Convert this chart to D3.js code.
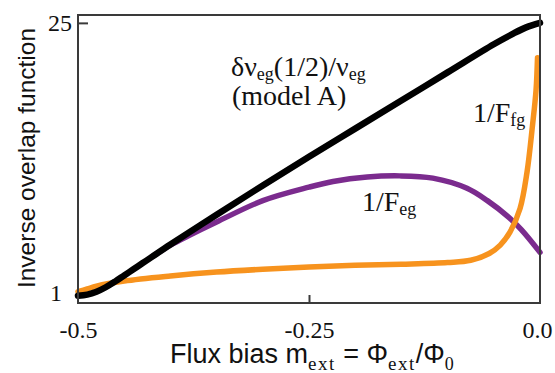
<!DOCTYPE html>
<html>
<head>
<meta charset="utf-8">
<script src="https://cdn.jsdelivr.net/npm/d3@7"></script>
<style>
  html, body { margin: 0; padding: 0; background: #fff; }
  svg { display: block; }
</style>
</head>
<body>
<svg id="chart" width="555" height="373"></svg>
<script>
// Flux bias (x) and inverse overlap values (y) for each curve
const modelAFlux   = [-0.5, -0.49, -0.48, -0.47, -0.46, -0.45, -0.44, -0.43, -0.42, -0.4, -0.35, -0.3, -0.25, -0.2, -0.15, -0.1, -0.05, -0.03, -0.015, 0];
const modelAValues = [0.75, 0.85, 1.1, 1.5, 2.0, 2.55, 3.1, 3.65, 4.2, 5.3, 7.95, 10.55, 13.1, 15.6, 18.1, 20.6, 23.1, 24.0, 24.6, 25.0];

const fegFlux   = [-0.42, -0.4, -0.38, -0.35, -0.3, -0.25, -0.224, -0.187, -0.152, -0.116, -0.079, -0.057, -0.035, -0.02, 0];
const fegValues = [4.2, 5.25, 6.1, 7.3, 9.2, 10.4, 10.9, 11.3, 11.4, 11.2, 10.3, 9.2, 7.8, 6.6, 4.6];

const ffgFlux   = [-0.5, -0.49, -0.48, -0.45, -0.4, -0.35, -0.3, -0.25, -0.2, -0.15, -0.1, -0.075, -0.055, -0.043, -0.0325, -0.0216, -0.0141, -0.0081, -0.0043, -0.0027];
const ffgValues = [1.1, 1.35, 1.6, 2.05, 2.5, 2.85, 3.1, 3.3, 3.45, 3.55, 3.7, 3.9, 4.5, 5.25, 6.4, 8.5, 11.7, 15.9, 19.0, 21.9];

const xTicks = [-0.5, -0.25, 0.0];
const xTickLabels = ["-0.5", "-0.25", "0.0"];
const yTicks = [1, 25];
const yTickLabels = ["1", "25"];

const SERIF = "Liberation Serif";
const SANS = "Liberation Sans";

const svg = d3.select("#chart");
const W = 555, H = 373;
const margin = { left: 78, top: 15, right: 15, bottom: 70 };

const x = d3.scaleLinear().domain([-0.5, 0]).range([margin.left, W - margin.right]);
const y = d3.scaleLinear().domain([0.1, 25.7]).range([H - margin.bottom, margin.top]);

const line = d3.line()
  .x(d => x(d[0]))
  .y(d => y(d[1]))
  .curve(d3.curveCatmullRom.alpha(0.5));

const zip = (a, b) => a.map((v, i) => [v, b[i]]);

// Curves: purple under orange, black on top
svg.append("path")
  .attr("d", line(zip(fegFlux, fegValues)))
  .attr("fill", "none").attr("stroke", "#7b2b8e").attr("stroke-width", 5.5)
  .attr("stroke-linecap", "round");

svg.append("path")
  .attr("d", line(zip(ffgFlux, ffgValues)))
  .attr("fill", "none").attr("stroke", "#f7931e").attr("stroke-width", 5.5)
  .attr("stroke-linecap", "round");

svg.append("path")
  .attr("d", line(zip(modelAFlux, modelAValues)))
  .attr("fill", "none").attr("stroke", "#000").attr("stroke-width", 6.5)
  .attr("stroke-linecap", "round");

// Frame
svg.append("rect")
  .attr("x", margin.left).attr("y", margin.top)
  .attr("width", W - margin.left - margin.right)
  .attr("height", H - margin.top - margin.bottom)
  .attr("fill", "none").attr("stroke", "#3a3a3a").attr("stroke-width", 2);

// Bottom axis: inward tick at -0.25 only, labels at all three
const xAxis = d3.axisBottom(x)
  .tickValues(xTicks)
  .tickFormat((d, i) => xTickLabels[i])
  .tickSizeInner(-8).tickSizeOuter(0).tickPadding(18);
const gx = svg.append("g").attr("transform", `translate(0,${H - margin.bottom})`).call(xAxis)
  .attr("font-family", SERIF).attr("font-size", 24);
gx.select(".domain").remove();
gx.selectAll(".tick line")
  .attr("stroke", "#3a3a3a").attr("stroke-width", 2)
  .attr("opacity", d => (d === -0.25 ? 1 : 0));
gx.selectAll(".tick text")
  .attr("fill", "#111")
  .attr("dx", d => (d === 0 ? -3 : 0));

// Left axis: inward tick at 25 only
const yAxis = d3.axisLeft(y)
  .tickValues(yTicks)
  .tickFormat((d, i) => yTickLabels[i])
  .tickSizeInner(-10).tickSizeOuter(0).tickPadding(6);
const gy = svg.append("g").attr("transform", `translate(${margin.left},0)`).call(yAxis)
  .attr("font-family", SERIF).attr("font-size", 24);
gy.select(".domain").remove();
gy.selectAll(".tick line")
  .attr("stroke", "#3a3a3a").attr("stroke-width", 2)
  .attr("opacity", d => (d === 25 ? 1 : 0));
gy.selectAll(".tick text")
  .attr("fill", "#111")
  .attr("x", d => (d === 1 ? -16 : -6));

// Axis titles
const xt = svg.append("text")
  .attr("x", 170).attr("y", 363)
  .attr("font-family", SANS).attr("font-size", 27).attr("fill", "#111");
xt.append("tspan").text("Flux bias m");
xt.append("tspan").attr("font-family", SERIF).attr("font-size", 19).attr("letter-spacing", 1.5).attr("dy", 7).text("ext");
xt.append("tspan").attr("dy", -7).text(" = \u03A6");
xt.append("tspan").attr("font-family", SERIF).attr("font-size", 19).attr("letter-spacing", 1.5).attr("dy", 7).text("ext");
xt.append("tspan").attr("dy", -7).text("/\u03A6");
xt.append("tspan").attr("font-family", SERIF).attr("font-size", 18).attr("dy", 7).text("0");

svg.append("text")
  .attr("transform", `translate(35,158) rotate(-90)`)
  .attr("text-anchor", "middle")
  .attr("font-family", SANS).attr("font-size", 24.5).attr("fill", "#111")
  .text("Inverse overlap function");

// Curve annotations
function label(xp, yp, parts) {
  const t = svg.append("text").attr("x", xp).attr("y", yp)
    .attr("font-family", SERIF).attr("font-size", 28).attr("fill", "#111");
  let shifted = false;
  parts.forEach(p => {
    const s = t.append("tspan").text(p.t);
    if (p.sub) {
      s.attr("font-size", 18);
      if (!shifted) { s.attr("dy", 4); shifted = true; }
    } else if (shifted) { s.attr("dy", -4); shifted = false; }
  });
  return t;
}

label(231, 76, [{t: "\u03B4\u03BD"}, {t: "eg", sub: true}, {t: "(1/2)/\u03BD"}, {t: "eg", sub: true}]);
label(232, 105, [{t: "(model A)"}]);
label(473, 122, [{t: "1/F"}, {t: "fg", sub: true}]);
label(362, 211, [{t: "1/F"}, {t: "eg", sub: true}]);
</script>
</body>
</html>
